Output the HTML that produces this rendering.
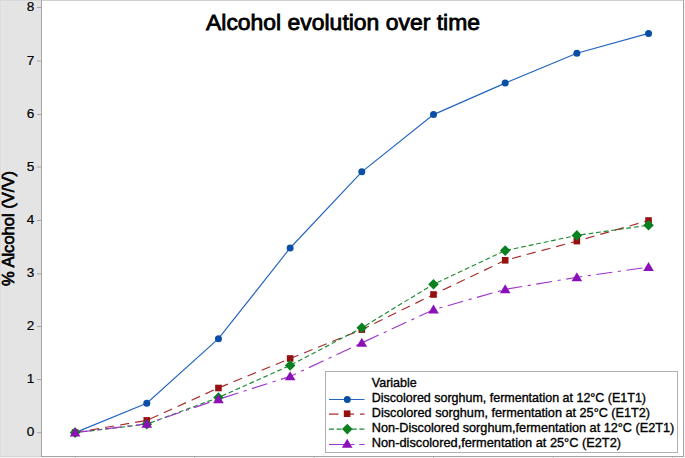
<!DOCTYPE html>
<html><head><meta charset="utf-8"><style>
html,body{margin:0;padding:0;background:#e4e4e4;overflow:hidden}
svg{display:block}
text{font-family:"Liberation Sans",sans-serif;fill:#111}
.tk{font-size:13.6px;stroke:#000;fill:#000;stroke-width:0.2px}
.ti{font-size:22px;stroke:#000;fill:#000;stroke-width:0.8px}
.yl{font-size:16.3px;stroke:#000;fill:#000;stroke-width:0.7px}
.lg{font-size:12.8px;stroke:#000;fill:#000;stroke-width:0.35px}
</style></head><body>
<svg width="685" height="458" viewBox="0 0 685 458">
<rect x="0" y="0" width="685" height="458" fill="#e4e4e4"/>
<rect x="42" y="1" width="641" height="455" fill="#ffffff"/>
<rect x="0" y="0" width="41" height="1" fill="#d9d9d9"/>
<rect x="41" y="0" width="644" height="1" fill="#cfcfcf"/>
<rect x="0" y="457" width="685" height="1" fill="#f3f3f3"/>
<rect x="684" y="0" width="1" height="458" fill="#f3f3f3"/>
<rect x="0" y="456" width="41" height="1" fill="#d6d6d6"/>
<rect x="0" y="1" width="1" height="455" fill="#dcdcdc"/>
<rect x="1" y="1" width="1" height="455" fill="#e6e6e6"/>
<rect x="41" y="0" width="1" height="457" fill="#a6a6a6"/>
<rect x="41" y="456" width="643" height="1" fill="#a6a6a6"/>
<rect x="683" y="0" width="1" height="457" fill="#a6a6a6"/>
<rect x="37" y="432.20" width="4" height="1" fill="#a6a6a6"/>
<text x="34.3" y="436.20" text-anchor="end" class="tk">0</text>
<rect x="37" y="379.00" width="4" height="1" fill="#a6a6a6"/>
<text x="34.3" y="383.00" text-anchor="end" class="tk">1</text>
<rect x="37" y="326.00" width="4" height="1" fill="#a6a6a6"/>
<text x="34.3" y="330.00" text-anchor="end" class="tk">2</text>
<rect x="37" y="273.30" width="4" height="1" fill="#a6a6a6"/>
<text x="34.3" y="277.30" text-anchor="end" class="tk">3</text>
<rect x="37" y="220.00" width="4" height="1" fill="#a6a6a6"/>
<text x="34.3" y="224.00" text-anchor="end" class="tk">4</text>
<rect x="37" y="166.50" width="4" height="1" fill="#a6a6a6"/>
<text x="34.3" y="170.50" text-anchor="end" class="tk">5</text>
<rect x="37" y="114.00" width="4" height="1" fill="#a6a6a6"/>
<text x="34.3" y="118.00" text-anchor="end" class="tk">6</text>
<rect x="37" y="60.50" width="4" height="1" fill="#a6a6a6"/>
<text x="34.3" y="64.50" text-anchor="end" class="tk">7</text>
<rect x="37" y="7.00" width="4" height="1" fill="#a6a6a6"/>
<text x="34.3" y="11.00" text-anchor="end" class="tk">8</text>
<rect x="74.60" y="457" width="1" height="2" fill="#bdbdbd"/>
<rect x="194.10" y="457" width="1" height="2" fill="#bdbdbd"/>
<rect x="313.60" y="457" width="1" height="2" fill="#bdbdbd"/>
<rect x="433.10" y="457" width="1" height="2" fill="#bdbdbd"/>
<rect x="552.60" y="457" width="1" height="2" fill="#bdbdbd"/>
<rect x="672.10" y="457" width="1" height="2" fill="#bdbdbd"/>
<text x="343" y="30.3" text-anchor="middle" class="ti" textLength="274" lengthAdjust="spacingAndGlyphs">Alcohol evolution over time</text>
<text transform="translate(14,228.5) rotate(-90)" text-anchor="middle" class="yl" textLength="115" lengthAdjust="spacingAndGlyphs">% Alcohol (V/V)</text>
<polyline points="75.10,432.60 146.78,403.30 218.46,338.70 290.14,248.00 361.82,171.80 433.50,114.60 505.18,83.10 576.86,53.30 648.54,33.40" fill="none" stroke="#2565c0" stroke-width="1.15"/>
<polyline points="75.10,432.60 146.78,420.40 218.46,388.00 290.14,358.50 361.82,329.60 433.50,294.50 505.18,260.30 576.86,241.10 648.54,220.50" fill="none" stroke="#a82a2a" stroke-width="1.15" stroke-dasharray="9.2 6.045" stroke-dashoffset="0.1"/>
<polyline points="75.10,432.60 146.78,424.20 218.46,397.50 290.14,365.40 361.82,327.80 433.50,284.20 505.18,250.60 576.86,235.40 648.54,225.20" fill="none" stroke="#1a8a30" stroke-width="1.15" stroke-dasharray="4.8 2.825" stroke-dashoffset="0.33"/>
<polyline points="75.10,432.60 146.78,423.80 218.46,399.30 290.14,376.40 361.82,342.90 433.50,309.70 505.18,289.40 576.86,277.30 648.54,267.10" fill="none" stroke="#a035cc" stroke-width="1.15" stroke-dasharray="16.1 5.6 3.2 5.525" stroke-dashoffset="-0.55"/>
<circle cx="75.10" cy="432.60" r="3.5" fill="#0a4fa6"/>
<circle cx="146.78" cy="403.30" r="3.5" fill="#0a4fa6"/>
<circle cx="218.46" cy="338.70" r="3.5" fill="#0a4fa6"/>
<circle cx="290.14" cy="248.00" r="3.5" fill="#0a4fa6"/>
<circle cx="361.82" cy="171.80" r="3.5" fill="#0a4fa6"/>
<circle cx="433.50" cy="114.60" r="3.5" fill="#0a4fa6"/>
<circle cx="505.18" cy="83.10" r="3.5" fill="#0a4fa6"/>
<circle cx="576.86" cy="53.30" r="3.5" fill="#0a4fa6"/>
<circle cx="648.54" cy="33.40" r="3.5" fill="#0a4fa6"/>
<rect x="71.80" y="429.30" width="6.6" height="6.6" fill="#961010"/>
<rect x="143.48" y="417.10" width="6.6" height="6.6" fill="#961010"/>
<rect x="215.16" y="384.70" width="6.6" height="6.6" fill="#961010"/>
<rect x="286.84" y="355.20" width="6.6" height="6.6" fill="#961010"/>
<rect x="358.52" y="326.30" width="6.6" height="6.6" fill="#961010"/>
<rect x="430.20" y="291.20" width="6.6" height="6.6" fill="#961010"/>
<rect x="501.88" y="257.00" width="6.6" height="6.6" fill="#961010"/>
<rect x="573.56" y="237.80" width="6.6" height="6.6" fill="#961010"/>
<rect x="645.24" y="217.20" width="6.6" height="6.6" fill="#961010"/>
<path d="M75.10 427.30L80.40 432.60L75.10 437.90L69.80 432.60Z" fill="#0a8020"/>
<path d="M146.78 418.90L152.08 424.20L146.78 429.50L141.48 424.20Z" fill="#0a8020"/>
<path d="M218.46 392.20L223.76 397.50L218.46 402.80L213.16 397.50Z" fill="#0a8020"/>
<path d="M290.14 360.10L295.44 365.40L290.14 370.70L284.84 365.40Z" fill="#0a8020"/>
<path d="M361.82 322.50L367.12 327.80L361.82 333.10L356.52 327.80Z" fill="#0a8020"/>
<path d="M433.50 278.90L438.80 284.20L433.50 289.50L428.20 284.20Z" fill="#0a8020"/>
<path d="M505.18 245.30L510.48 250.60L505.18 255.90L499.88 250.60Z" fill="#0a8020"/>
<path d="M576.86 230.10L582.16 235.40L576.86 240.70L571.56 235.40Z" fill="#0a8020"/>
<path d="M648.54 219.90L653.84 225.20L648.54 230.50L643.24 225.20Z" fill="#0a8020"/>
<path d="M75.10 427.50L80.40 436.50L69.80 436.50Z" fill="#8c10b8"/>
<path d="M146.78 418.70L152.08 427.70L141.48 427.70Z" fill="#8c10b8"/>
<path d="M218.46 394.20L223.76 403.20L213.16 403.20Z" fill="#8c10b8"/>
<path d="M290.14 371.30L295.44 380.30L284.84 380.30Z" fill="#8c10b8"/>
<path d="M361.82 337.80L367.12 346.80L356.52 346.80Z" fill="#8c10b8"/>
<path d="M433.50 304.60L438.80 313.60L428.20 313.60Z" fill="#8c10b8"/>
<path d="M505.18 284.30L510.48 293.30L499.88 293.30Z" fill="#8c10b8"/>
<path d="M576.86 272.20L582.16 281.20L571.56 281.20Z" fill="#8c10b8"/>
<path d="M648.54 262.00L653.84 271.00L643.24 271.00Z" fill="#8c10b8"/>
<rect x="325.5" y="371.5" width="352" height="81" fill="#ffffff" stroke="#b0b0b0" stroke-width="1"/>
<text x="371.8" y="387.1" class="lg" textLength="45" lengthAdjust="spacingAndGlyphs">Variable</text>
<text x="371.8" y="401.9" class="lg" textLength="274.2" lengthAdjust="spacingAndGlyphs">Discolored sorghum, fermentation at 12°C (E1T1)</text>
<text x="371.8" y="416.9" class="lg" textLength="278.3" lengthAdjust="spacingAndGlyphs">Discolored sorghum, fermentation at 25°C (E1T2)</text>
<text x="371.8" y="431.9" class="lg" textLength="302.5" lengthAdjust="spacingAndGlyphs">Non-Discolored sorghum,fermentation at 12°C (E2T1)</text>
<text x="371.8" y="446.9" class="lg" textLength="249.2" lengthAdjust="spacingAndGlyphs">Non-discolored,fermentation at 25°C (E2T2)</text>
<line x1="329" y1="399.5" x2="364.5" y2="399.5" stroke="#2565c0" stroke-width="1.15"/>
<circle cx="347.30" cy="399.50" r="3.5" fill="#0a4fa6"/>
<line x1="329" y1="414.1" x2="364.5" y2="414.1" stroke="#c26a6a" stroke-width="1.7" stroke-dasharray="9.5 6"/>
<rect x="343.80" y="410.40" width="6.6" height="6.6" fill="#961010"/>
<line x1="329" y1="429.1" x2="364.5" y2="429.1" stroke="#1a8a30" stroke-width="1.15" stroke-dasharray="5 2.6"/>
<path d="M347.30 423.80L352.60 429.10L347.30 434.40L342.00 429.10Z" fill="#0a8020"/>
<line x1="329" y1="444.5" x2="364.5" y2="444.5" stroke="#a035cc" stroke-width="1.15" stroke-dasharray="17 4.6 4 4.6"/>
<path d="M347.20 438.70L352.50 447.70L341.90 447.70Z" fill="#8c10b8"/>
</svg>
</body></html>
